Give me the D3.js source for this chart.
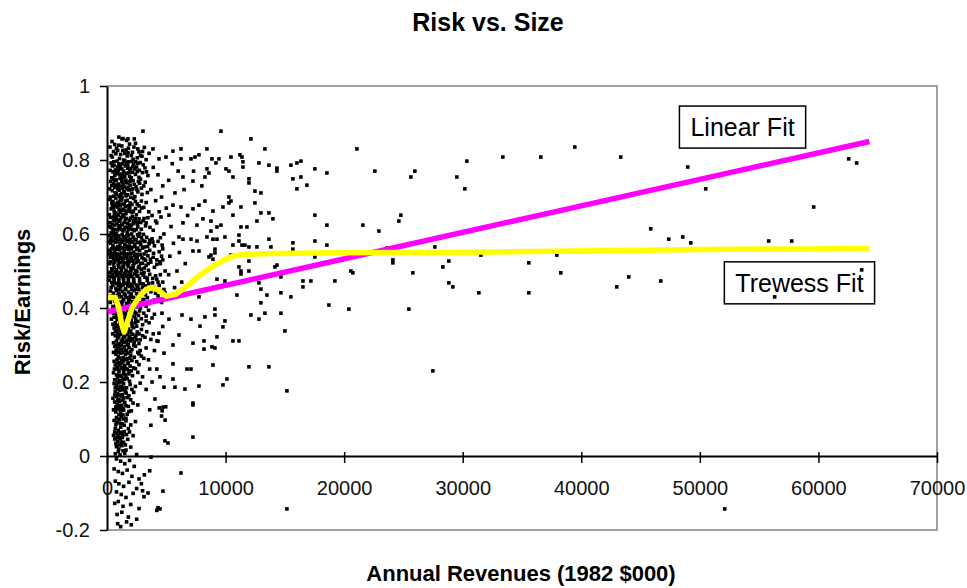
<!DOCTYPE html>
<html>
<head>
<meta charset="utf-8">
<script src="https://d3js.org/d3.v7.min.js"></script>
<style>
  body { margin: 0; background: #fff; }
  svg text { font-family: "Liberation Sans", Arial, sans-serif; }
</style>
</head>
<body>
<div id="chart"></div>
<script>

// firms, [annual revenues (1982 $000), risk/earnings]
// the crowded cluster of small firms
var clusterFirms = [
  [1000,0.862],[1650,0.853],[420,0.85],[2300,0.857],[1350,0.858],
  [250,0.835],[650,0.842],[900,0.826],[1250,0.838],[1500,0.818],[1800,0.832],[2050,0.812],[2400,0.845],[2700,0.822],[3150,0.834],
  [3550,0.818],[450,0.808],[1050,0.804],[1400,0.8],[1700,0.811],[2200,0.802],[2550,0.806],[2950,0.81],[3300,0.801],[750,0.817],
  [350,0.792],[600,0.785],[850,0.797],[1050,0.78],[1300,0.79],[1550,0.784],[1800,0.795],[2000,0.777],[2250,0.788],[2500,0.781],
  [2800,0.793],[3200,0.779],[500,0.768],[750,0.762],[950,0.772],[1200,0.758],[1400,0.77],[1650,0.764],[1900,0.756],[2150,0.767],
  [2400,0.761],[2700,0.753],[3000,0.766],[3450,0.758],[400,0.752],[1100,0.751],[1750,0.778],[2050,0.752],[1500,0.755],[900,0.781],
  [300,0.742],[550,0.736],[800,0.746],[1000,0.731],[1250,0.741],[1500,0.727],[1700,0.738],[1950,0.732],[2200,0.744],[2450,0.728],
  [2750,0.737],[3100,0.73],[450,0.717],[700,0.711],[900,0.722],[1150,0.706],[1400,0.715],[1600,0.703],[1850,0.719],[2100,0.71],
  [2350,0.701],[2600,0.714],[2950,0.707],[3400,0.712],[650,0.726],[1300,0.724],[2000,0.748],[1050,0.702],
  [250,0.694],[500,0.688],[750,0.697],[1000,0.683],[1200,0.692],[1450,0.679],[1700,0.691],[1950,0.684],[2250,0.696],[2550,0.681],
  [2900,0.689],[350,0.668],[600,0.662],[850,0.673],[1100,0.659],[1350,0.667],[1600,0.655],[1850,0.666],[2100,0.658],[2400,0.669],
  [2750,0.661],[3100,0.672],[200,0.652],[450,0.678],[950,0.651],[1550,0.674],[2000,0.699],[1300,0.652],
  [300,0.645],[550,0.638],[750,0.648],[1000,0.634],[1200,0.644],[1450,0.631],[1650,0.642],[1900,0.637],[2150,0.647],[2400,0.633],
  [2700,0.641],[3050,0.636],[3450,0.644],[200,0.621],[450,0.614],[650,0.624],[900,0.611],[1100,0.62],[1350,0.608],[1550,0.618],
  [1800,0.612],[2050,0.623],[2300,0.609],[2600,0.619],[2900,0.613],[3250,0.622],[350,0.603],[800,0.601],[1250,0.627],[1700,0.604],
  [2200,0.628],[2750,0.602],
  [200,0.596],[400,0.59],[600,0.598],[800,0.587],[1000,0.595],[1200,0.584],[1400,0.593],[1600,0.588],[1800,0.597],[2000,0.585],
  [2200,0.592],[2450,0.586],[2700,0.594],[3000,0.583],[3350,0.591],[3800,0.587],[300,0.575],[500,0.569],[700,0.578],[900,0.566],
  [1100,0.574],[1300,0.563],[1500,0.572],[1700,0.567],[1900,0.576],[2100,0.564],[2350,0.573],[2600,0.562],[2850,0.571],[3150,0.565],
  [3550,0.574],[4000,0.568],[250,0.556],[650,0.553],[1050,0.557],[1450,0.552],[1850,0.558],[2250,0.551],[2750,0.555],[3300,0.552],
  [200,0.546],[450,0.54],[650,0.548],[850,0.537],[1050,0.545],[1250,0.534],[1450,0.543],[1650,0.538],[1850,0.547],[2050,0.535],
  [2300,0.542],[2550,0.536],[2800,0.544],[3100,0.533],[3450,0.541],[3900,0.537],[300,0.525],[550,0.519],[750,0.528],[950,0.516],
  [1150,0.524],[1350,0.513],[1550,0.522],[1750,0.517],[1950,0.526],[2200,0.514],[2450,0.523],[2700,0.512],[3000,0.521],[3300,0.515],
  [3700,0.524],[4200,0.518],[400,0.506],[800,0.503],[1200,0.507],[1600,0.502],[2000,0.508],[2400,0.501],[2900,0.505],[3500,0.502],
  [250,0.496],[500,0.49],[700,0.498],[900,0.487],[1100,0.495],[1300,0.484],[1500,0.493],[1700,0.488],[1900,0.497],[2100,0.485],
  [2350,0.492],[2600,0.486],[2900,0.494],[3200,0.483],[3600,0.491],[4100,0.487],[200,0.475],[400,0.469],[600,0.478],[800,0.466],
  [1000,0.474],[1200,0.463],[1400,0.472],[1600,0.467],[1800,0.476],[2000,0.464],[2250,0.473],[2500,0.462],[2750,0.471],[3050,0.465],
  [3400,0.474],[3850,0.468],[4400,0.461],[350,0.456],[750,0.453],[1150,0.457],[1550,0.452],[1950,0.458],[2400,0.451],[3000,0.455],
  [300,0.446],[550,0.44],[800,0.448],[1050,0.437],[1300,0.445],[1550,0.434],[1800,0.443],[2050,0.438],[2300,0.447],[2600,0.435],
  [2900,0.442],[3250,0.436],[3700,0.444],[4300,0.433],[4900,0.441],[400,0.425],[650,0.419],[900,0.428],[1150,0.416],[1400,0.424],
  [1650,0.413],[1900,0.422],[2150,0.417],[2450,0.426],[2750,0.414],[3100,0.423],[3500,0.412],[4000,0.421],[4600,0.415],[500,0.404],
  [1000,0.407],[1500,0.402],[2000,0.408],[2500,0.403],[3300,0.405],
  [450,0.396],[700,0.39],[950,0.398],[1150,0.387],[1350,0.395],[1550,0.384],[1750,0.393],[1950,0.388],[2200,0.397],[2450,0.385],
  [2750,0.392],[3100,0.386],[3500,0.394],[4000,0.383],[600,0.375],[850,0.369],[1050,0.378],[1250,0.366],[1450,0.374],[1650,0.363],
  [1850,0.372],[2050,0.367],[2300,0.376],[2600,0.364],[2900,0.371],[3300,0.365],[3800,0.373],[500,0.356],[900,0.353],[1300,0.357],
  [1700,0.352],[2100,0.358],[2500,0.351],[3000,0.355],
  [600,0.346],[800,0.34],[1000,0.348],[1200,0.337],[1400,0.345],[1600,0.334],[1800,0.343],[2000,0.338],[2250,0.347],[2550,0.335],
  [2900,0.342],[3350,0.336],[700,0.325],[900,0.319],[1100,0.328],[1300,0.316],[1500,0.324],[1700,0.313],[1900,0.322],[2150,0.317],
  [2450,0.326],[2800,0.314],[3200,0.321],[3700,0.315],[550,0.306],[1000,0.303],[1400,0.307],[1800,0.302],[2300,0.308],[2700,0.304],
  [650,0.296],[850,0.29],[1050,0.298],[1250,0.287],[1450,0.295],[1650,0.284],[1850,0.293],[2100,0.288],[2400,0.297],[2800,0.285],
  [3300,0.292],[750,0.275],[950,0.269],[1150,0.278],[1350,0.266],[1550,0.274],[1750,0.263],[2000,0.272],[2300,0.267],[2700,0.276],
  [3100,0.264],[600,0.256],[1000,0.253],[1400,0.257],[1800,0.252],[2500,0.255],
  [700,0.246],[900,0.24],[1100,0.248],[1300,0.237],[1500,0.245],[1700,0.234],[1950,0.243],[2250,0.238],[2700,0.247],[550,0.225],
  [800,0.219],[1000,0.228],[1200,0.216],[1400,0.224],[1600,0.213],[1850,0.222],[2150,0.217],[2600,0.226],[3000,0.214],[650,0.206],
  [1050,0.203],[1450,0.207],[1900,0.202],
  [600,0.196],[800,0.19],[1000,0.198],[1200,0.187],[1400,0.195],[1650,0.184],[1950,0.193],[2400,0.188],[2800,0.197],[700,0.175],
  [900,0.169],[1100,0.178],[1300,0.166],[1550,0.174],[1850,0.163],[2250,0.172],[500,0.156],[1000,0.153],[1400,0.157],[2000,0.152],
  [650,0.146],[850,0.14],[1050,0.148],[1250,0.137],[1500,0.145],[1800,0.134],[2200,0.143],[2600,0.138],[550,0.125],[750,0.119],
  [950,0.128],[1150,0.116],[1400,0.124],[1700,0.113],[2050,0.122],[800,0.104],[1200,0.107],[1600,0.102],
  [600,0.096],[850,0.09],[1050,0.098],[1300,0.087],[1600,0.095],[2000,0.084],[2400,0.093],[700,0.075],[950,0.069],[1150,0.078],
  [1450,0.066],[1800,0.074],[550,0.056],[1000,0.053],[1350,0.057],[2200,0.055],
  [650,0.046],[900,0.04],[1100,0.048],[1400,0.037],[1750,0.045],[800,0.025],[1000,0.019],[1250,0.028],[1600,0.016],[2000,0.024],
  [700,0.006],[1100,0.003],[1500,0.007],[2500,0.004],
  [800,-0.008],[1150,-0.014],[1500,-0.021],[1900,-0.012],[2300,-0.028],[600,-0.035],[950,-0.042],[1300,-0.047],[1700,-0.038],
  [2100,-0.055],[2700,-0.062],[3150,-0.051],[700,-0.068],[1000,-0.075],[1400,-0.082],[1850,-0.071],[2500,-0.088],[800,-0.097],
  [1200,-0.104],[1600,-0.112],[2200,-0.101],[3000,-0.094],[650,-0.128],[950,-0.123],[1350,-0.136],[2000,-0.131],[2700,-0.142],
  [850,-0.158],[1250,-0.152],[1800,-0.165],[2500,-0.171],[900,-0.183],[1150,-0.191],[1650,-0.178],[2050,-0.186],
  [3600,-0.04],[3120,-0.11],[3460,-0.1],[2900,-0.075],[4200,-0.147],[4300,-0.14]
];

// more firms packed into the core of the cluster
var clusterCore = [
  [550,0.823],[1150,0.815],[1600,0.827],[2150,0.821],[2600,0.83],[1900,0.843],[1000,0.84],[3000,0.823],
  [450,0.784],[700,0.773],[1000,0.79],[1250,0.776],[1500,0.798],[1750,0.786],[2100,0.796],[2350,0.776],[2600,0.791],[3050,0.787],
  [1350,0.762],[1850,0.766],[2550,0.769],[650,0.758],
  [400,0.731],[650,0.744],[950,0.735],[1150,0.728],[1350,0.733],[1600,0.745],[1800,0.726],[2050,0.72],[2300,0.734],[2650,0.742],
  [2900,0.724],[800,0.708],[1250,0.709],[1750,0.706],
  [400,0.684],[650,0.677],[900,0.686],[1100,0.676],[1300,0.681],[1550,0.689],[1800,0.676],[2100,0.68],[2400,0.688],[2700,0.676],
  [3300,0.685],[750,0.657],[1200,0.663],[1950,0.661],
  [250,0.631],[450,0.627],[650,0.636],[850,0.628],[1100,0.638],[1300,0.625],[1550,0.64],[1750,0.629],[2000,0.643],[2250,0.635],
  [2550,0.627],[2850,0.631],[3300,0.63],[550,0.606],[1000,0.616],[1450,0.613],[1950,0.615],[2450,0.612],
  [300,0.586],[500,0.581],[700,0.589],[900,0.579],[1100,0.586],[1300,0.578],[1500,0.584],[1700,0.58],[1900,0.586],[2100,0.578],
  [2350,0.584],[2600,0.577],[2900,0.59],[3200,0.58],[3600,0.583],[4300,0.58],[400,0.56],[850,0.559],[1250,0.561],[1650,0.56],
  [2050,0.56],[2500,0.558],[3000,0.562],[3600,0.556],[4400,0.552],
  [300,0.537],[550,0.531],[750,0.54],[950,0.53],[1150,0.537],[1350,0.529],[1550,0.535],[1750,0.53],[1950,0.538],[2150,0.528],
  [2400,0.533],[2650,0.527],[2950,0.536],[3250,0.529],[3650,0.532],[4200,0.53],[4600,0.54],[600,0.51],[1000,0.511],[1400,0.51],
  [1800,0.512],[2200,0.507],[2650,0.509],[3150,0.508],[4000,0.51],
  [350,0.484],[600,0.482],[800,0.491],[1000,0.481],[1200,0.489],[1400,0.48],[1600,0.487],[1800,0.482],[2000,0.49],[2250,0.479],
  [2500,0.488],[2750,0.48],[3050,0.489],[3400,0.481],[3850,0.48],[4500,0.49],[500,0.461],[950,0.46],[1350,0.462],[1750,0.46],
  [2150,0.459],[2600,0.458],[3250,0.46],[4000,0.456],
  [400,0.433],[700,0.431],[950,0.44],[1200,0.43],[1450,0.438],[1700,0.428],[1950,0.432],[2200,0.429],[2500,0.439],[2800,0.429],
  [3400,0.428],[4100,0.44],[750,0.41],[1250,0.409],[1750,0.41],[2250,0.41],
  [550,0.386],[800,0.381],[1050,0.389],[1250,0.38],[1450,0.386],[1650,0.378],[1850,0.382],[2100,0.379],[2350,0.389],[2650,0.38],
  [3300,0.378],[700,0.36],[1100,0.361],[1500,0.36],[1900,0.362],[2400,0.36],
  [700,0.336],[900,0.33],[1100,0.339],[1300,0.33],[1500,0.337],[1700,0.328],[1900,0.333],[2150,0.329],[2700,0.33],[800,0.311],
  [1200,0.31],[1600,0.309],[2000,0.311],[2500,0.314],
  [750,0.284],[950,0.281],[1150,0.289],[1350,0.28],[1550,0.286],[1750,0.278],[2000,0.282],[2600,0.28],[850,0.26],[1250,0.259],
  [1650,0.261],[2100,0.258],
  [800,0.235],[1000,0.231],[1200,0.239],[1400,0.232],[1600,0.236],[1850,0.23],[900,0.211],[1300,0.21],[1700,0.209],[2400,0.236],
  [700,0.185],[900,0.181],[1100,0.188],[1300,0.179],[1500,0.184],[800,0.16],[1200,0.161],[1700,0.158],
  [750,0.133],[950,0.137],[1150,0.131],[1350,0.128],[1600,0.136],[1000,0.112],[1350,0.111],
  [750,0.085],[1150,0.088],[1450,0.083],[850,0.06],[1250,0.064],[1650,0.058],
  [750,0.034],[1200,0.038],[950,0.012],[1350,0.014],
  [3900,0.61],[4200,0.63],[4500,0.59],[4700,0.56],[4900,0.5],[4500,0.52],[4300,0.47],[4800,0.45],[3800,0.65],[4400,0.66]
];

// still more firms in the darkest part of the cluster
var clusterDark = [
  [350,0.812],[800,0.832],[1325,0.826],[1775,0.82],[2275,0.835],[2825,0.812],
  [275,0.772],[575,0.795],[825,0.765],[1125,0.786],[1375,0.752],[1625,0.792],[1925,0.772],[2175,0.782],[2425,0.795],[2725,0.772],
  [3325,0.768],[1075,0.762],
  [225,0.722],[525,0.748],[725,0.732],[1025,0.718],[1225,0.748],[1475,0.712],[1675,0.722],[1925,0.742],[2175,0.722],[2525,0.72],
  [2825,0.748],[3225,0.74],[575,0.702],[1525,0.74],
  [300,0.7],[525,0.672],[775,0.682],[1025,0.666],[1275,0.698],[1425,0.664],[1675,0.662],[1925,0.672],[2225,0.662],[2475,0.652],
  [2925,0.67],[3525,0.66],[625,0.652],[1125,0.692],
  [325,0.618],[575,0.646],[825,0.64],[1025,0.622],[1225,0.612],[1425,0.648],[1675,0.618],[1875,0.624],[2125,0.612],[2375,0.642],
  [2625,0.632],[3125,0.642],[3625,0.618],[4100,0.635],[725,0.612],
  [250,0.578],[475,0.6],[675,0.562],[875,0.594],[1075,0.566],[1275,0.598],[1475,0.562],[1675,0.595],[1875,0.566],[2075,0.6],
  [2325,0.566],[2575,0.598],[2825,0.578],[3075,0.599],[3425,0.566],[3875,0.578],[4650,0.57],
  [225,0.52],[425,0.548],[625,0.524],[825,0.546],[1025,0.522],[1225,0.548],[1425,0.52],[1625,0.546],[1825,0.522],[2025,0.548],
  [2275,0.52],[2525,0.545],[2825,0.52],[3125,0.546],[3475,0.52],[3925,0.548],[4450,0.525],
  [225,0.486],[425,0.5],[625,0.47],[825,0.498],[1025,0.466],[1225,0.5],[1425,0.466],[1625,0.498],[1825,0.468],[2025,0.5],
  [2275,0.468],[2525,0.498],[2825,0.466],[3125,0.496],[3525,0.466],[4200,0.478],[4700,0.47],
  [275,0.415],[525,0.43],[775,0.42],[1075,0.45],[1325,0.418],[1575,0.45],[1825,0.418],[2075,0.45],[2375,0.418],[2675,0.45],
  [3025,0.418],[3600,0.45],[4450,0.425],
  [375,0.37],[625,0.4],[875,0.376],[1125,0.4],[1375,0.366],[1625,0.4],[1875,0.365],[2125,0.4],[2425,0.37],[2825,0.4],[3550,0.36],
  [475,0.33],[750,0.35],[975,0.322],[1175,0.35],[1425,0.32],[1625,0.35],[1875,0.318],[2125,0.35],[2375,0.32],[3000,0.325],
  [550,0.28],[775,0.3],[1025,0.265],[1225,0.3],[1475,0.262],[1700,0.3],[1925,0.265],[2250,0.3],[2900,0.27],
  [625,0.235],[875,0.25],[1075,0.218],[1275,0.25],[1525,0.22],[1775,0.25],[2050,0.23],
  [650,0.165],[875,0.2],[1075,0.165],[1275,0.2],[1625,0.17],[2100,0.18],
  [675,0.125],[900,0.15],[1100,0.125],[1325,0.15],[1850,0.12],
  [650,0.065],[925,0.1],[1125,0.062],[1375,0.1],[1900,0.065],
  [850,0.05],[1050,0.03],[1300,0.05],[1550,0.03]
];

// the thinner spray of firms around the cluster
var fringeFirms = [
  [3035,0.878],[3878,0.830],[5564,0.824],[6238,0.830],[4974,0.808],[4384,0.803],[6238,0.803],[7081,0.803],[7418,0.808],[7756,0.814],
  [6407,0.754],[7250,0.743],[5732,0.711],[5564,0.678],[6238,0.673],[7250,0.668],[7756,0.678],[5227,0.651],[4552,0.646],[6407,0.630],
  [7587,0.624],[6070,0.592],[6407,0.586],[7081,0.586],[7587,0.581],[7250,0.554],[7756,0.554],[7756,0.430],[1265,0.857],[1770,0.857],
  [3900,0.78],[4300,0.76],[4700,0.73],[5200,0.745],[3700,0.72],[4100,0.69],[4600,0.70],[5000,0.67],[5400,0.62],[4800,0.60],
  [5600,0.575],[6100,0.55],[5300,0.54],[4700,0.53],[6600,0.52],[5900,0.50],[5200,0.49],[6300,0.47],[5700,0.455],[6800,0.65],
  [6500,0.72],[6000,0.77],[5500,0.79],[7300,0.77],[8000,0.73],
  [4384,0.332],[4215,0.311],[4805,0.278],[5564,0.300],[6070,0.327],[7250,0.305],[8177,0.289],[8177,0.311],[7840,0.351],[7081,0.370],
  [6323,0.381],[5227,0.370],[4637,0.386],[5564,0.249],[6744,0.235],[7081,0.235],[5564,0.208],[5732,0.186],[6575,0.181],[4468,0.214],
  [4805,0.186],[4046,0.154],[4721,0.132],[7250,0.143],[7250,0.138],[7756,0.189],[9779,0.192],[10116,0.208],[8936,0.246],[11971,0.241],
  [13657,0.241],[7250,0.051],[4889,0.041],[5142,0.035],[3709,-0.003],[6238,-0.046],[4721,-0.095],[4468,-0.143],[15174,-0.143],[15174,0.176],
  [3600,0.125],[4400,0.13],[4650,0.122],[4950,0.133],[4600,0.108],[4900,0.097],[3700,0.083],[3300,0.18],[3800,0.2],[4200,0.235],
  [3500,0.26],[4000,0.285],[3600,0.235],[4300,0.31],[3900,0.33],[4700,0.35]
];

// mid-sized and large firms
var largeFirms = [
  [9610,0.878],[12139,0.857],[8430,0.830],[13319,0.830],[11212,0.814],[11381,0.808],[11465,0.795],[11465,0.781],[10453,0.808],[9442,0.803],
  [9189,0.792],[8852,0.803],[12814,0.792],[13657,0.786],[14331,0.778],[14331,0.770],[15511,0.786],[16017,0.792],[16354,0.797],[17534,0.776],
  [18546,0.765],[10032,0.776],[10285,0.770],[8430,0.776],[8599,0.765],[8261,0.754],[10622,0.754],[11971,0.749],[11971,0.738],[15680,0.749],
  [16354,0.754],[16860,0.732],[16017,0.722],[12476,0.716],[12982,0.711],[10285,0.700],[10453,0.689],[10285,0.684],[8261,0.689],[12476,0.684],
  [11296,0.673],[9779,0.673],[8936,0.662],[12982,0.657],[13657,0.657],[10622,0.651],[13994,0.641],[12645,0.635],[17534,0.651],[8093,0.641],
  [8767,0.635],[9610,0.624],[9273,0.619],[11296,0.619],[11802,0.619],[18546,0.624],[8767,0.608],[11128,0.597],[9947,0.592],[8430,0.592],
  [8936,0.586],[9273,0.586],[13657,0.586],[10622,0.570],[11128,0.581],[11381,0.570],[11633,0.570],[11971,0.565],[12645,0.565],[13825,0.565],
  [15680,0.576],[15680,0.559],[17534,0.581],[18546,0.570],[9104,0.559],[9104,0.549],[8599,0.538],[8767,0.543],[8936,0.532],[10453,0.543],
  [11971,0.527],[17534,0.538],[18715,0.549],[11128,0.511],[11296,0.500],[11296,0.492],[11971,0.500],[14331,0.516],[14162,0.511],[14668,0.484],
  [9273,0.478],[9947,0.473],[12814,0.468],[16523,0.473],[16523,0.457],[17197,0.473],[19220,0.473],[12982,0.451],[10959,0.435],[13488,0.435],
  [14668,0.441],[15511,0.430],[12982,0.414],[18715,0.408],[9104,0.397],[9104,0.381],[8261,0.376],[12139,0.381],[12814,0.370],[13319,0.386],
  [14668,0.386],[9947,0.365],[9779,0.349],[15005,0.338],[9273,0.322],[10622,0.311],[11128,0.311],[8852,0.295],[9104,0.292],
  [21075,0.830],[22592,0.770],[25964,0.770],[25627,0.754],[29505,0.754],[30348,0.797],[30179,0.722],[33383,0.808],[36586,0.808],[39452,0.835],
  [43330,0.808],[21581,0.624],[22930,0.608],[24784,0.651],[24616,0.635],[22424,0.551],[23604,0.562],[27650,0.565],[24110,0.530],[24110,0.522],
  [31528,0.543],[37935,0.543],[28831,0.527],[28325,0.511],[35575,0.522],[20569,0.500],[20738,0.495],[25796,0.495],[38272,0.495],[28831,0.468],
  [29168,0.457],[44005,0.484],[42993,0.457],[31360,0.441],[35575,0.441],[20401,0.397],[25459,0.397],[27482,0.230],
  [48978,0.781],[50496,0.722],[62551,0.803],[63225,0.792],[59600,0.673],[45859,0.614],[47377,0.586],[48557,0.592],[49231,0.576],[55807,0.581],
  [57746,0.581],[46702,0.473],[63647,0.503],[56312,0.430],[52097,-0.143]
];

// fitted curves
var linearFit = [[50,0.39],[64300,0.85]];
var trewessFit = [
  [100,0.43],[700,0.428],[1000,0.40],[1250,0.355],[1450,0.335],[1700,0.36],[2100,0.40],[2700,0.43],[3300,0.45],[3900,0.455],
  [4400,0.447],[5000,0.432],[5800,0.437],[6800,0.46],[7800,0.488],[8800,0.51],[9700,0.527],[10600,0.54],[11500,0.545],[14000,0.547],
  [20000,0.549],[30000,0.551],[40000,0.554],[50000,0.558],[64300,0.561]
];

var xTicks = [0,10000,20000,30000,40000,50000,60000,70000];
var yTicks = [-0.2,0,0.2,0.4,0.6,0.8,1];
var fitLabels = [
  {text:'Linear Fit', rev:53600, val:0.889},
  {text:'Trewess Fit', rev:58400, val:0.468}
];

var width = 967, height = 588;
var plot = {left:107, right:937, top:86, bottom:530};

var x = d3.scaleLinear().domain([0,70000]).range([plot.left, plot.right]);
var y = d3.scaleLinear().domain([-0.2,1]).range([plot.bottom, plot.top]);

var svg = d3.select('#chart')
  .append('svg')
  .attr('width', width)
  .attr('height', height);

// grey frame on top, right and bottom
svg.append('path')
  .attr('d', 'M' + plot.left + ',' + plot.top + 'H' + plot.right + 'V' + plot.bottom + 'H' + plot.left)
  .attr('fill', 'none')
  .attr('stroke', '#a0a0a0')
  .attr('stroke-width', 2);

// y axis
var yAxis = svg.append('g')
  .attr('transform', 'translate(' + plot.left + ',0)')
  .call(d3.axisLeft(y)
    .tickValues(yTicks)
    .tickSizeInner(7)
    .tickSizeOuter(0)
    .tickPadding(10)
    .tickFormat(function(d){ return String(+d.toFixed(1)); }));

// x axis sits on the zero line
var xAxis = svg.append('g')
  .attr('transform', 'translate(0,' + y(0) + ')')
  .call(d3.axisBottom(x)
    .tickValues(xTicks)
    .tickSizeInner(7)
    .tickSizeOuter(0)
    .tickPadding(18)
    .tickFormat(d3.format('d')));

xAxis.selectAll('.tick line').attr('y1', -4);

[yAxis, xAxis].forEach(function(a){
  a.select('.domain').attr('stroke', '#000').attr('stroke-width', 2);
  a.selectAll('.tick line').attr('stroke', '#000').attr('stroke-width', 1.5);
  a.selectAll('.tick text')
    .attr('fill', '#111')
    .attr('font-size', 20)
    .attr('font-family', '"Liberation Sans", Arial, sans-serif');
});

// scatter of firms
var allFirms = clusterFirms.concat(clusterCore, clusterDark, fringeFirms, largeFirms);
var dot = 3.6;

svg.append('g')
  .selectAll('rect')
  .data(allFirms)
  .enter()
    .append('rect')
    .attr('x', function(d){ return x(d[0]) - dot / 2; })
    .attr('y', function(d){ return y(d[1]) - dot / 2; })
    .attr('width', dot)
    .attr('height', dot)
    .attr('fill', '#000');

var line = d3.line()
  .x(function(d){ return x(d[0]); })
  .y(function(d){ return y(d[1]); });

svg.append('path')
  .datum(linearFit)
  .attr('d', line)
  .attr('fill', 'none')
  .attr('stroke', '#ff00ff')
  .attr('stroke-width', 5.5);

svg.append('path')
  .datum(trewessFit)
  .attr('d', line)
  .attr('fill', 'none')
  .attr('stroke', '#ffff00')
  .attr('stroke-width', 5.5)
  .attr('stroke-linejoin', 'round');

// boxed labels for the two fits
var labels = svg.selectAll('g.fitlabel')
  .data(fitLabels)
  .enter()
    .append('g')
    .classed('fitlabel', true)
    .attr('transform', function(d){ return 'translate(' + x(d.rev) + ',' + y(d.val) + ')'; });

labels.append('text')
  .attr('text-anchor', 'middle')
  .attr('y', 9)
  .attr('font-size', 25)
  .attr('fill', '#000')
  .text(function(d){ return d.text; });

labels.insert('rect', 'text')
  .each(function(){
    var w = this.parentNode.querySelector('text').getComputedTextLength() + 22;
    d3.select(this)
      .attr('x', -w / 2)
      .attr('y', -21)
      .attr('width', w)
      .attr('height', 42);
  })
  .attr('fill', 'none')
  .attr('stroke', '#000')
  .attr('stroke-width', 1.5);

// titles
svg.append('text')
  .attr('x', 488)
  .attr('y', 31)
  .attr('text-anchor', 'middle')
  .attr('font-size', 25)
  .attr('font-weight', 'bold')
  .text('Risk vs. Size');

svg.append('text')
  .attr('x', 521)
  .attr('y', 581)
  .attr('text-anchor', 'middle')
  .attr('font-size', 22)
  .attr('font-weight', 'bold')
  .text('Annual Revenues (1982 $000)');

svg.append('text')
  .attr('transform', 'translate(30,302) rotate(-90)')
  .attr('text-anchor', 'middle')
  .attr('font-size', 22)
  .attr('font-weight', 'bold')
  .text('Risk/Earnings');

</script>
</body>
</html>
